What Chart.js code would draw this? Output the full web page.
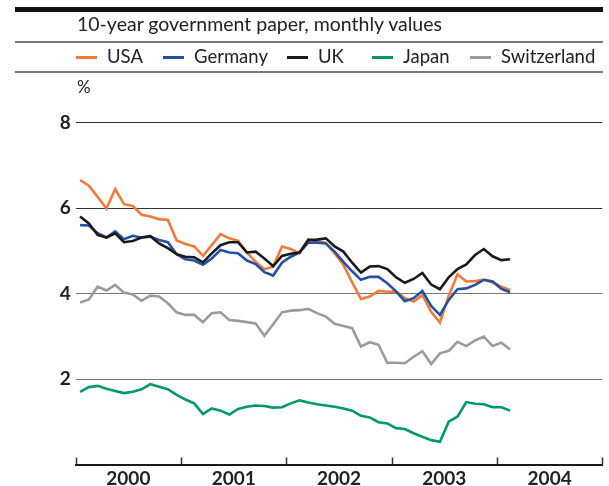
<!DOCTYPE html>
<html>
<head>
<meta charset="utf-8">
<script src="https://cdn.jsdelivr.net/npm/chart.js@4.4.1/dist/chart.umd.min.js"></script>
<style>
  body { margin: 0; background: #fff; }
  #wrap { position: relative; width: 609px; height: 486px; font-family: Lato, "Open Sans", sans-serif; color: #222; }
  #chart { position: absolute; left: 0; top: 0; }
  .bar { position: absolute; left: 15px; top: 7px; width: 588px; height: 5px; background: #111; }
  .rule { position: absolute; left: 15px; width: 588px; height: 1.5px; background: #777; }
  .title { position: absolute; left: 77px; top: 12px; font-size: 19.5px; white-space: nowrap; }
  .unit { position: absolute; left: 77px; top: 76px; font-size: 17px; }
  .item { position: absolute; top: 45px; font-size: 18.5px; white-space: nowrap; }
  .item i { display: inline-block; width: 21px; height: 3px; margin-right: 10px; vertical-align: middle; position: relative; top: -1px; }
</style>
</head>
<body>
<div id="wrap">
  <canvas id="chart" width="609" height="486"></canvas>
  <div class="bar"></div>
  <div class="title">10-year government paper, monthly values</div>
  <div class="rule" style="top:41px"></div>
  <div id="legend"></div>
  <div class="rule" style="top:71px"></div>
  <div class="unit">%</div>
</div>
<script>
// tick labels
const years = ['2000', '2001', '2002', '2003', '2004'];

// monthly yields, Jan 2000 - Feb 2004
const usa = [6.65, 6.52, 6.26, 5.99, 6.44, 6.09, 6.05, 5.84, 5.80, 5.74, 5.72, 5.24,
  5.16, 5.10, 4.88, 5.13, 5.39, 5.29, 5.23, 4.96, 4.74, 4.57, 4.63, 5.10,
  5.04, 4.94, 5.27, 5.22, 5.18, 4.94, 4.67, 4.26, 3.87, 3.93, 4.06, 4.04,
  4.05, 3.89, 3.81, 3.96, 3.57, 3.32, 3.95, 4.45, 4.28, 4.29, 4.32, 4.26,
  4.16, 4.08];
const germany = [5.60, 5.59, 5.41, 5.31, 5.45, 5.27, 5.35, 5.31, 5.33, 5.25, 5.20, 4.92,
  4.80, 4.77, 4.67, 4.82, 5.02, 4.96, 4.94, 4.77, 4.69, 4.50, 4.42, 4.72,
  4.86, 4.96, 5.19, 5.19, 5.17, 4.98, 4.74, 4.52, 4.32, 4.39, 4.39, 4.24,
  4.05, 3.82, 3.89, 4.06, 3.71, 3.50, 3.85, 4.10, 4.12, 4.20, 4.32, 4.28,
  4.11, 4.03];
const uk = [5.80, 5.64, 5.37, 5.31, 5.41, 5.20, 5.23, 5.31, 5.34, 5.17, 5.06, 4.92,
  4.86, 4.85, 4.73, 4.94, 5.13, 5.20, 5.20, 4.96, 4.98, 4.82, 4.64, 4.88,
  4.93, 4.96, 5.25, 5.26, 5.29, 5.10, 4.98, 4.72, 4.49, 4.63, 4.64, 4.57,
  4.38, 4.25, 4.34, 4.48, 4.21, 4.10, 4.38, 4.57, 4.68, 4.90, 5.04, 4.87,
  4.78, 4.80];
const japan = [1.70, 1.81, 1.84, 1.77, 1.72, 1.67, 1.70, 1.76, 1.88, 1.82, 1.76, 1.63,
  1.52, 1.43, 1.18, 1.31, 1.26, 1.17, 1.30, 1.35, 1.38, 1.37, 1.33, 1.34,
  1.43, 1.50, 1.45, 1.41, 1.38, 1.35, 1.31, 1.26, 1.14, 1.10, 0.99, 0.96,
  0.85, 0.83, 0.73, 0.65, 0.57, 0.53, 1.00, 1.12, 1.46, 1.42, 1.41, 1.34,
  1.34, 1.26];
const switzerland = [3.79, 3.86, 4.16, 4.07, 4.20, 4.02, 3.98, 3.83, 3.95, 3.93, 3.77, 3.56,
  3.50, 3.50, 3.33, 3.54, 3.56, 3.38, 3.36, 3.33, 3.30, 3.01, 3.28, 3.56,
  3.60, 3.61, 3.64, 3.54, 3.46, 3.29, 3.24, 3.19, 2.76, 2.86, 2.80, 2.38,
  2.38, 2.37, 2.52, 2.65, 2.35, 2.60, 2.66, 2.87, 2.77, 2.90, 2.99, 2.77,
  2.85, 2.69];

const series = [
  { label: 'USA', values: usa, color: '#f47a3a', order: 3, left: 76 },
  { label: 'Germany', values: germany, color: '#2251a6', order: 2, left: 163 },
  { label: 'UK', values: uk, color: '#1a1a1a', order: 1, left: 287 },
  { label: 'Japan', values: japan, color: '#00986a', order: 4, left: 372 },
  { label: 'Switzerland', values: switzerland, color: '#9b9b9b', order: 5, left: 470 },
];

// points sit in the middle of their month
const toPoints = vals => vals.map((v, i) => ({ x: i + 0.5, y: v }));

// legend
const legend = document.getElementById('legend');
series.forEach(s => {
  const d = document.createElement('div');
  d.className = 'item';
  d.style.left = s.left + 'px';
  d.innerHTML = '<i style="background:' + s.color + '"></i>' + s.label;
  legend.appendChild(d);
});

// year tick marks sit above the axis line
const yearTicks = {
  id: 'yearTicks',
  afterDraw(chart) {
    const { ctx, chartArea, scales } = chart;
    ctx.save();
    ctx.strokeStyle = '#333';
    ctx.lineWidth = 1.5;
    for (let m = 0; m <= 60; m += 12) {
      const x = Math.round(scales.x.getPixelForValue(m)) + 0.5;
      ctx.beginPath();
      ctx.moveTo(x, chartArea.bottom - 7);
      ctx.lineTo(x, chartArea.bottom);
      ctx.stroke();
    }
    ctx.restore();
  }
};

new Chart(document.getElementById('chart'), {
  type: 'line',
  data: {
    datasets: series.map(s => ({
      label: s.label,
      data: toPoints(s.values),
      borderColor: s.color,
      backgroundColor: s.color,
      borderWidth: 2.6,
      pointRadius: 0,
      tension: 0,
      order: s.order,
    })),
  },
  options: {
    responsive: false,
    animation: false,
    devicePixelRatio: 1,
    layout: { padding: { top: 122.5, right: 6.7, left: 0, bottom: 0 } },
    plugins: { legend: { display: false }, tooltip: { enabled: false } },
    scales: {
      x: {
        type: 'linear',
        min: 0,
        max: 60,
        afterFit: s => { s.height = 21.5; },
        grid: { display: false, drawTicks: false },
        border: { display: true, color: '#1a1a1a', width: 2 },
        ticks: {
          stepSize: 6,
          autoSkip: false,
          maxRotation: 0,
          padding: 3,
          color: '#222',
          font: { family: 'Lato', size: 19, weight: 'bold' },
          callback: v => (v % 12 === 6 ? years[(v - 6) / 12] : ''),
        },
      },
      y: {
        min: 0,
        max: 8,
        afterFit: s => { s.width = 75.7; },
        border: { display: false },
        grid: {
          drawTicks: false,
          lineWidth: 1,
          color: c => (c.tick.value >= 6 ? '#333' : '#777'),
        },
        ticks: {
          stepSize: 2,
          padding: 5,
          color: '#222',
          font: { family: 'Lato', size: 19, weight: 'bold' },
          callback: v => (v === 0 ? '' : v),
        },
      },
    },
  },
  plugins: [yearTicks],
});
</script>
</body>
</html>
